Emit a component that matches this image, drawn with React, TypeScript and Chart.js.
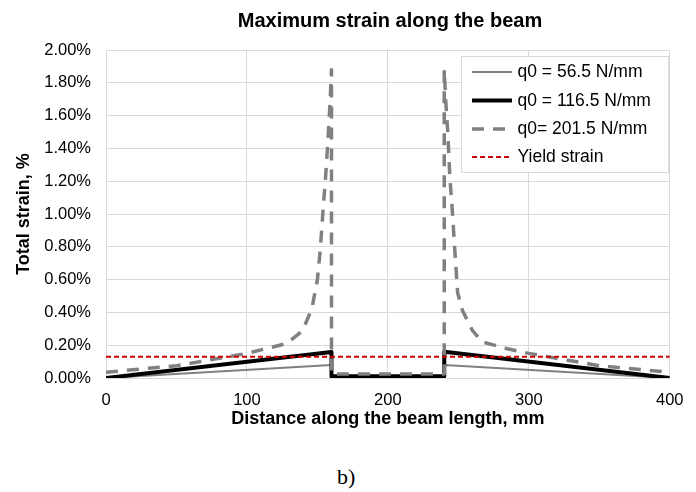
import React, { useEffect, useRef } from "react";
import { Chart, registerables } from "chart.js";

Chart.register(...registerables);

// ---- data (strain in %) ----
const xQ56 = [0, 160, 160, 240, 240, 400];
const strainQ56 = [0, 0.08, 0.005, 0.005, 0.08, 0];

const xQ116 = [0, 160, 160, 240, 240, 400];
const strainQ116 = [0, 0.158, 0.01, 0.01, 0.16, 0];

const xQ201 = [0, 50, 100, 128, 137, 141, 146, 150, 152, 154, 156, 157.5, 159, 160, 160, 240, 240, 241, 242.5, 244, 245.5, 247.5, 249.5, 253, 260, 267, 284, 300, 350, 400];
const strainQ201 = [0.035, 0.075, 0.15, 0.21, 0.27, 0.32, 0.42, 0.6, 0.78, 1.02, 1.25, 1.45, 1.68, 1.88, 0.025, 0.025, 1.88, 1.7, 1.5, 1.22, 1.05, 0.78, 0.52, 0.41, 0.29, 0.22, 0.18, 0.15, 0.075, 0.035];

const xYield = [0, 400];
const strainYield = [0.13, 0.13];

const seriesLabels = ["q0 = 56.5 N/mm", "q0 = 116.5 N/mm", "q0= 201.5 N/mm", "Yield strain"];
const xTickValues = [0, 100, 200, 300, 400];

const FONT = "'Liberation Sans', Arial, sans-serif";

const pts = (xs: number[], ys: number[]) => xs.map((x, i) => ({ x, y: ys[i] }));

const styles = [
  { color: "#808080", width: 2, dash: [] as number[] },
  { color: "#000000", width: 4, dash: [] as number[] },
  { color: "#808080", width: 3.5, dash: [12, 9] },
  { color: "#cc0000", width: 2, dash: [5, 3] },
];

const titlePlugin = {
  id: "customTitle",
  afterDraw(chart: any) {
    const ctx = chart.ctx;
    ctx.save();
    ctx.fillStyle = "#000";
    ctx.font = `bold 20px ${FONT}`;
    ctx.textAlign = "center";
    ctx.textBaseline = "alphabetic";
    ctx.fillText("Maximum strain along the beam", 390, 26.5);
    ctx.restore();
  },
};

const legendPlugin = {
  id: "customLegend",
  afterDraw(chart: any) {
    const ctx = chart.ctx;
    ctx.save();
    ctx.fillStyle = "#ffffff";
    ctx.fillRect(461.5, 56.5, 207, 116);
    ctx.strokeStyle = "#d9d9d9";
    ctx.lineWidth = 1;
    ctx.setLineDash([]);
    ctx.strokeRect(461.5, 56.5, 207, 116);
    const rows = [72, 100.5, 129, 157];
    rows.forEach((ry, i) => {
      const s = styles[i];
      ctx.beginPath();
      ctx.strokeStyle = s.color;
      ctx.lineWidth = s.width;
      ctx.setLineDash(s.dash);
      ctx.moveTo(472, ry);
      ctx.lineTo(512, ry);
      ctx.stroke();
      ctx.setLineDash([]);
      ctx.fillStyle = "#000";
      ctx.font = `17.5px ${FONT}`;
      ctx.textAlign = "left";
      ctx.textBaseline = "middle";
      ctx.fillText(seriesLabels[i], 517.5, ry + 0.5);
    });
    ctx.restore();
  },
};

export default function App() {
  const ref = useRef<HTMLCanvasElement | null>(null);

  useEffect(() => {
    if (!ref.current) return;
    const data = [pts(xQ56, strainQ56), pts(xQ116, strainQ116), pts(xQ201, strainQ201), pts(xYield, strainYield)];
    const orders = [4, 3, 2, 1];
    const chart = new Chart(ref.current, {
      type: "scatter",
      data: {
        datasets: data.map((d, i) => ({
          label: seriesLabels[i],
          data: d,
          showLine: true,
          borderColor: styles[i].color,
          backgroundColor: styles[i].color,
          borderWidth: styles[i].width,
          borderDash: styles[i].dash,
          borderJoinStyle: "round" as const,
          pointRadius: 0,
          pointHoverRadius: 0,
          tension: 0,
          order: orders[i],
        })),
      },
      options: {
        animation: false,
        responsive: false,
        events: [],
        layout: { padding: { top: 50, right: 26, left: 0, bottom: 0 } },
        plugins: {
          legend: { display: false },
          title: { display: false },
          tooltip: { enabled: false },
        },
        scales: {
          x: {
            type: "linear",
            min: 0,
            max: 400,
            afterBuildTicks: (scale: any) => {
              scale.ticks = xTickValues.map((v) => ({ value: v }));
            },
            afterFit: (scale: any) => {
              scale.height = 62;
            },
            grid: { color: "#d9d9d9", lineWidth: 1, drawTicks: false },
            border: { color: "#d9d9d9", width: 1 },
            ticks: {
              padding: 12.5,
              color: "#000",
              font: { family: FONT, size: 16.5 },
              maxRotation: 0,
              callback: (v: any) => String(v),
            },
            title: {
              display: true,
              text: "Distance along the beam length, mm",
              color: "#000",
              font: { family: FONT, size: 18, weight: "bold" },
              padding: 10.5,
            },
          },
          y: {
            type: "linear",
            min: 0,
            max: 2,
            afterFit: (scale: any) => {
              scale.width = 106;
            },
            grid: { color: "#d9d9d9", lineWidth: 1, drawTicks: false },
            border: { color: "#d9d9d9", width: 1 },
            ticks: {
              stepSize: 0.2,
              padding: 15,
              color: "#000",
              font: { family: FONT, size: 16.5 },
              callback: (v: any) => Number(v).toFixed(2) + "%",
            },
            title: {
              display: true,
              text: "Total strain, %",
              color: "#000",
              font: { family: FONT, size: 18, weight: "bold" },
              padding: 13,
            },
          },
        },
      },
      plugins: [titlePlugin, legendPlugin],
    });
    return () => chart.destroy();
  }, []);

  return (
    <div style={{ position: "absolute", left: 0, top: 0, width: 696, height: 492, background: "#fff" }}>
      <canvas ref={ref} width={696} height={440} style={{ display: "block", width: 696, height: 440 }} />
      <div
        style={{
          position: "absolute",
          left: 337,
          top: 466,
          fontFamily: "'Liberation Serif', 'Times New Roman', serif",
          fontSize: 22,
          lineHeight: 1,
          color: "#000",
        }}
      >
        b)
      </div>
    </div>
  );
}
